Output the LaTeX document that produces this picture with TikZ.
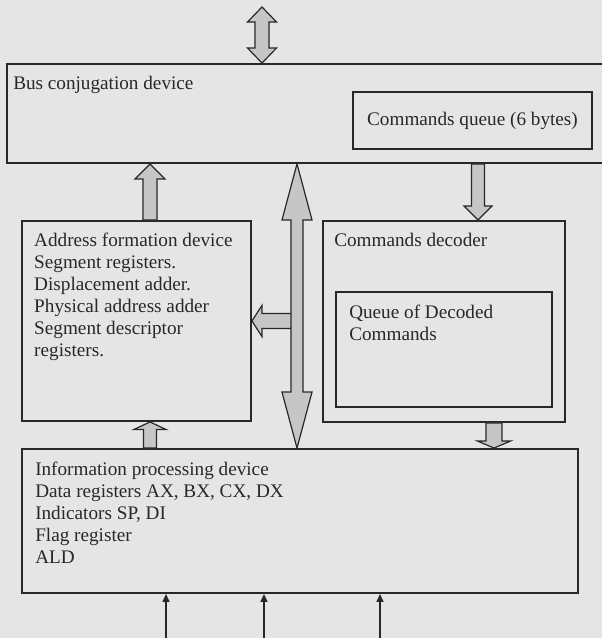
\documentclass[tikz,border=0pt]{standalone}
\usepackage{fontspec}
\setmainfont{Liberation Serif}
\usepackage{tikz}
\usetikzlibrary{positioning,calc,arrows.meta}

\definecolor{paper}{RGB}{229,229,229}
\definecolor{arrowfill}{RGB}{198,198,198}
\definecolor{ink}{RGB}{40,40,40}

% block arrows: from, to, half shaft, half head, head length
\newcommand{\blockarrow}[5]{%
  \coordinate (ba) at (#1);
  \coordinate (bt) at (#2);
  \coordinate (bb) at ($(bt)!#5!(ba)$);
  \filldraw[barrow] ($(ba)!#3!90:(bt)$) -- ($(bb)!#3!90:(bt)$) -- ($(bb)!#4!90:(bt)$) -- (bt)
    -- ($(bb)!#4!-90:(bt)$) -- ($(bb)!#3!-90:(bt)$) -- ($(ba)!#3!-90:(bt)$) -- cycle;
}
\newcommand{\dblockarrow}[5]{%
  \coordinate (ba) at (#1);
  \coordinate (bt) at (#2);
  \coordinate (bc) at ($(ba)!#5!(bt)$);
  \coordinate (bd) at ($(bt)!#5!(ba)$);
  \filldraw[barrow] (ba) -- ($(bc)!#4!90:(bt)$) -- ($(bc)!#3!90:(bt)$) -- ($(bd)!#3!90:(bt)$)
    -- ($(bd)!#4!90:(bt)$) -- (bt) -- ($(bd)!#4!-90:(bt)$) -- ($(bd)!#3!-90:(bt)$)
    -- ($(bc)!#3!-90:(bt)$) -- ($(bc)!#4!-90:(bt)$) -- cycle;
}

\begin{document}
\begin{tikzpicture}[x=1pt,y=-1pt]
            \tikzset{
                unit/.style={
                    draw=ink,
                    line width=1.9pt,
                    inner sep=0pt
                }
            }
            \tikzset{
                lbl/.style={
                    inner sep=0pt,
                    align=left,
                    text=ink,
                    font=\fontsize{19.2}{22}\selectfont
                }
            }
            \tikzset{
                barrow/.style={
                    fill=arrowfill,
                    draw=ink,
                    line width=1.2pt,
                    line join=miter
                }
            }
            \tikzset{
                inarrow/.style={
                    draw=ink,
                    line width=1.4pt,
                    -{Triangle[length=8pt,width=7pt]}
                }
            }

            \fill[paper] (0,0) rectangle (602,638);
            \useasboundingbox (0,0) rectangle (602,638);

            \node[unit, minimum width=603pt, minimum height=99pt] (bus) at (308.5,113.5) {};
            \node[unit, minimum width=239pt, minimum height=57pt, font=\fontsize{19.2}{22}\selectfont, text=ink] (cq) at (472.5,120.5) {Commands queue (6 bytes)};
            \node[unit, minimum width=229pt, minimum height=200pt] (address) at (136.5,321) {};
            \node[unit, minimum width=242pt, minimum height=201pt] (decoder) at (444,321.5) {};
            \node[unit, minimum width=216pt, minimum height=115pt] (queue) at (444,349.5) {};
            \node[unit, minimum width=556pt, minimum height=144pt] (info) at (300,521) {};

            \node[lbl, below right=13pt and 7pt of bus.north west] (bustext) {Bus conjugation device};
            \node[lbl, below right=13pt and 13pt of address.north west] (addrtext) {Address formation device\\Segment registers.\\Displacement adder.\\Physical address adder\\Segment descriptor\\registers.};
            \node[lbl, below right=13pt and 12pt of decoder.north west] (dectext) {Commands decoder};
            \node[lbl, below right=14pt and 14pt of queue.north west] (queuetext) {Queue of Decoded\\Commands};
            \node[lbl, below right=14pt and 14pt of info.north west] (infotext) {Information processing device\\Data registers AX, BX, CX, DX\\Indicators SP, DI\\Flag register\\ALD};

            \coordinate (busio) at (262,7);
            \coordinate (addrcol) at (150,0);
            \coordinate (midcol) at (297,0);
            \coordinate (deccol) at (478,0);
            \coordinate (infocol) at (494,0);
            \coordinate (in1) at (166,640);
            \coordinate (in2) at (264,640);
            \coordinate (in3) at (380,640);

            \dblockarrow{busio}{busio |- bus.north}{7pt}{14.5pt}{15pt}
            \blockarrow{addrcol |- address.north}{addrcol |- bus.south}{7pt}{15pt}{15pt}
            \blockarrow{addrcol |- info.north}{addrcol |- address.south}{6.5pt}{16pt}{7.5pt}
            \blockarrow{midcol |- address.east}{address.east}{7.5pt}{15.5pt}{10pt}
            \dblockarrow{midcol |- bus.south}{midcol |- info.north}{6pt}{15pt}{56pt}
            \blockarrow{deccol |- bus.south}{deccol |- decoder.north}{6.5pt}{14pt}{14pt}
            \blockarrow{infocol |- decoder.south}{infocol |- info.north}{8pt}{16.5pt}{7pt}

            \draw[inarrow] (in1) -- (in1 |- info.south);
            \draw[inarrow] (in2) -- (in2 |- info.south);
            \draw[inarrow] (in3) -- (in3 |- info.south);
        \end{tikzpicture}
\end{document}
